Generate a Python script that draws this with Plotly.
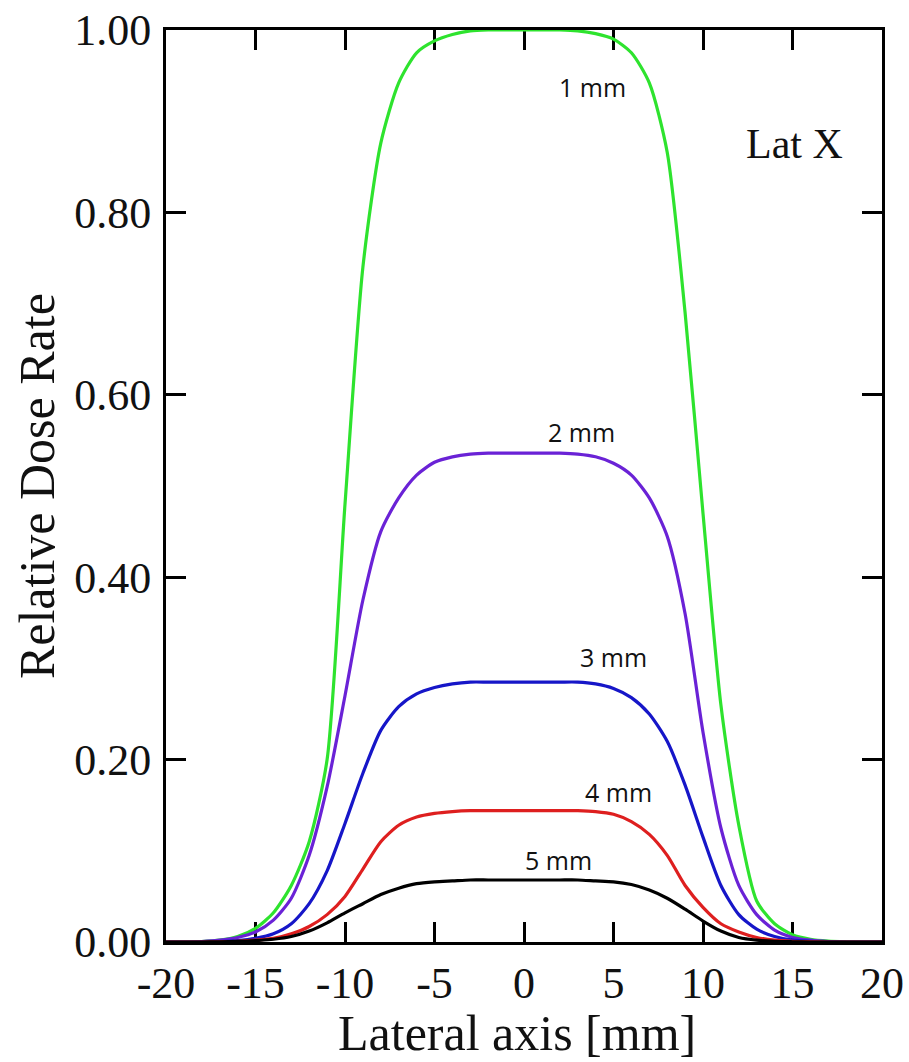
import plotly.graph_objects as go

# Lateral position [mm], 1 mm sampling
lateral_mm = list(range(-20, 21))

# Relative dose rate profiles along the lateral X axis, one per depth
dose_1mm = [0, 0, 0.0005, 0.002, 0.006, 0.015, 0.032, 0.062, 0.11, 0.2,
            0.48, 0.74, 0.876, 0.942, 0.975, 0.988, 0.995, 0.999, 1.0, 1.0,
            1.0, 1.0, 1.0, 0.999, 0.996, 0.99, 0.975, 0.942, 0.866, 0.69,
            0.47, 0.26, 0.128, 0.045, 0.02, 0.008, 0.003, 0.001, 0.0003, 0, 0]
dose_2mm = [0, 0, 0.0005, 0.002, 0.005, 0.011, 0.024, 0.048, 0.095, 0.17,
            0.27, 0.375, 0.45, 0.487, 0.512, 0.526, 0.532, 0.535, 0.536, 0.536,
            0.536, 0.536, 0.536, 0.535, 0.532, 0.525, 0.512, 0.487, 0.445, 0.36,
            0.23, 0.125, 0.062, 0.03, 0.013, 0.005, 0.002, 0.0005, 0, 0, 0]
dose_3mm = [0, 0, 0, 0.0005, 0.0015, 0.004, 0.009, 0.02, 0.042, 0.078,
            0.13, 0.185, 0.232, 0.258, 0.272, 0.279, 0.283, 0.285, 0.285, 0.285,
            0.285, 0.285, 0.285, 0.285, 0.283, 0.278, 0.268, 0.25, 0.22, 0.172,
            0.115, 0.062, 0.03, 0.014, 0.006, 0.002, 0.0008, 0.0002, 0, 0, 0]
dose_4mm = [0, 0, 0, 0.0003, 0.0008, 0.002, 0.004, 0.009, 0.017, 0.03,
            0.05, 0.08, 0.11, 0.128, 0.137, 0.141, 0.143, 0.144, 0.144, 0.144,
            0.144, 0.144, 0.144, 0.144, 0.143, 0.14, 0.132, 0.118, 0.095, 0.062,
            0.038, 0.02, 0.011, 0.005, 0.002, 0.0008, 0.0003, 0, 0, 0, 0]
dose_5mm = [0, 0, 0, 0.0002, 0.0006, 0.0015, 0.003, 0.006, 0.012, 0.021,
            0.032, 0.042, 0.052, 0.059, 0.064, 0.066, 0.067, 0.068, 0.068, 0.068,
            0.068, 0.068, 0.068, 0.068, 0.067, 0.066, 0.063, 0.057, 0.048, 0.036,
            0.023, 0.012, 0.005, 0.002, 0.0008, 0.0003, 0, 0, 0, 0, 0]

series_names = ["1 mm", "2 mm", "3 mm", "4 mm", "5 mm"]
series_values = [dose_1mm, dose_2mm, dose_3mm, dose_4mm, dose_5mm]
series_colors = ["#2ee32e", "#6a22d6", "#1616c8", "#de1f1f", "#000000"]

# Curve label anchor points (data coordinates)
label_x = [3.84, 3.23, 5.01, 5.29, 1.95]
label_y = [0.9375, 0.559, 0.3125, 0.1645, 0.09]

x_ticks = [-20, -15, -10, -5, 0, 5, 10, 15, 20]
y_ticks = [0.0, 0.2, 0.4, 0.6, 0.8, 1.0]

fig = go.Figure()
for name, vals, col in zip(series_names, series_values, series_colors):
    fig.add_trace(go.Scatter(x=lateral_mm, y=vals, mode="lines", name=name,
                             line=dict(color=col, width=3.2,
                                       shape="spline", smoothing=0.7)))

serif = "Liberation Serif, Times New Roman, serif"
sans = "Open Sans, Noto Sans, sans-serif"

for name, lx, ly in zip(series_names, label_x, label_y):
    fig.add_annotation(x=lx, y=ly, text=name, showarrow=False,
                       xanchor="center", yanchor="middle",
                       font=dict(family=sans, size=25, color="#111111"))

fig.add_annotation(x=15.1, y=0.875, text="Lat X", showarrow=False,
                   xanchor="center", yanchor="middle",
                   font=dict(family=serif, size=42, color="#111111"))

# Axis titles
fig.add_annotation(xref="paper", yref="paper", x=0.49, y=-0.1,
                   text="Lateral axis [mm]", showarrow=False,
                   xanchor="center", yanchor="middle",
                   font=dict(family=serif, size=50, color="#111111"))
fig.add_annotation(xref="paper", yref="paper", x=-0.18, y=0.5,
                   text="Relative Dose Rate", showarrow=False, textangle=-90,
                   xanchor="center", yanchor="middle",
                   font=dict(family=serif, size=50, color="#111111"))

axis_common = dict(showgrid=False, zeroline=False, showline=True,
                   linecolor="black", linewidth=3, mirror="ticks",
                   ticks="inside", ticklen=20, tickwidth=3, tickcolor="black",
                   layer="below traces",
                   tickfont=dict(family=serif, size=44, color="#111111"))

fig.update_xaxes(range=[-20, 20], tickvals=x_ticks,
                 ticktext=[str(v) for v in x_ticks], **axis_common)
fig.update_yaxes(range=[0, 1], tickvals=y_ticks, ticklabelstandoff=3,
                 ticktext=[f"{v:.2f}" for v in y_ticks], **axis_common)

fig.update_layout(width=909, height=1062, showlegend=False,
                  plot_bgcolor="white", paper_bgcolor="white",
                  margin=dict(l=166, r=27, t=30, b=120, autoexpand=False))

fig.write_html("out.html")
